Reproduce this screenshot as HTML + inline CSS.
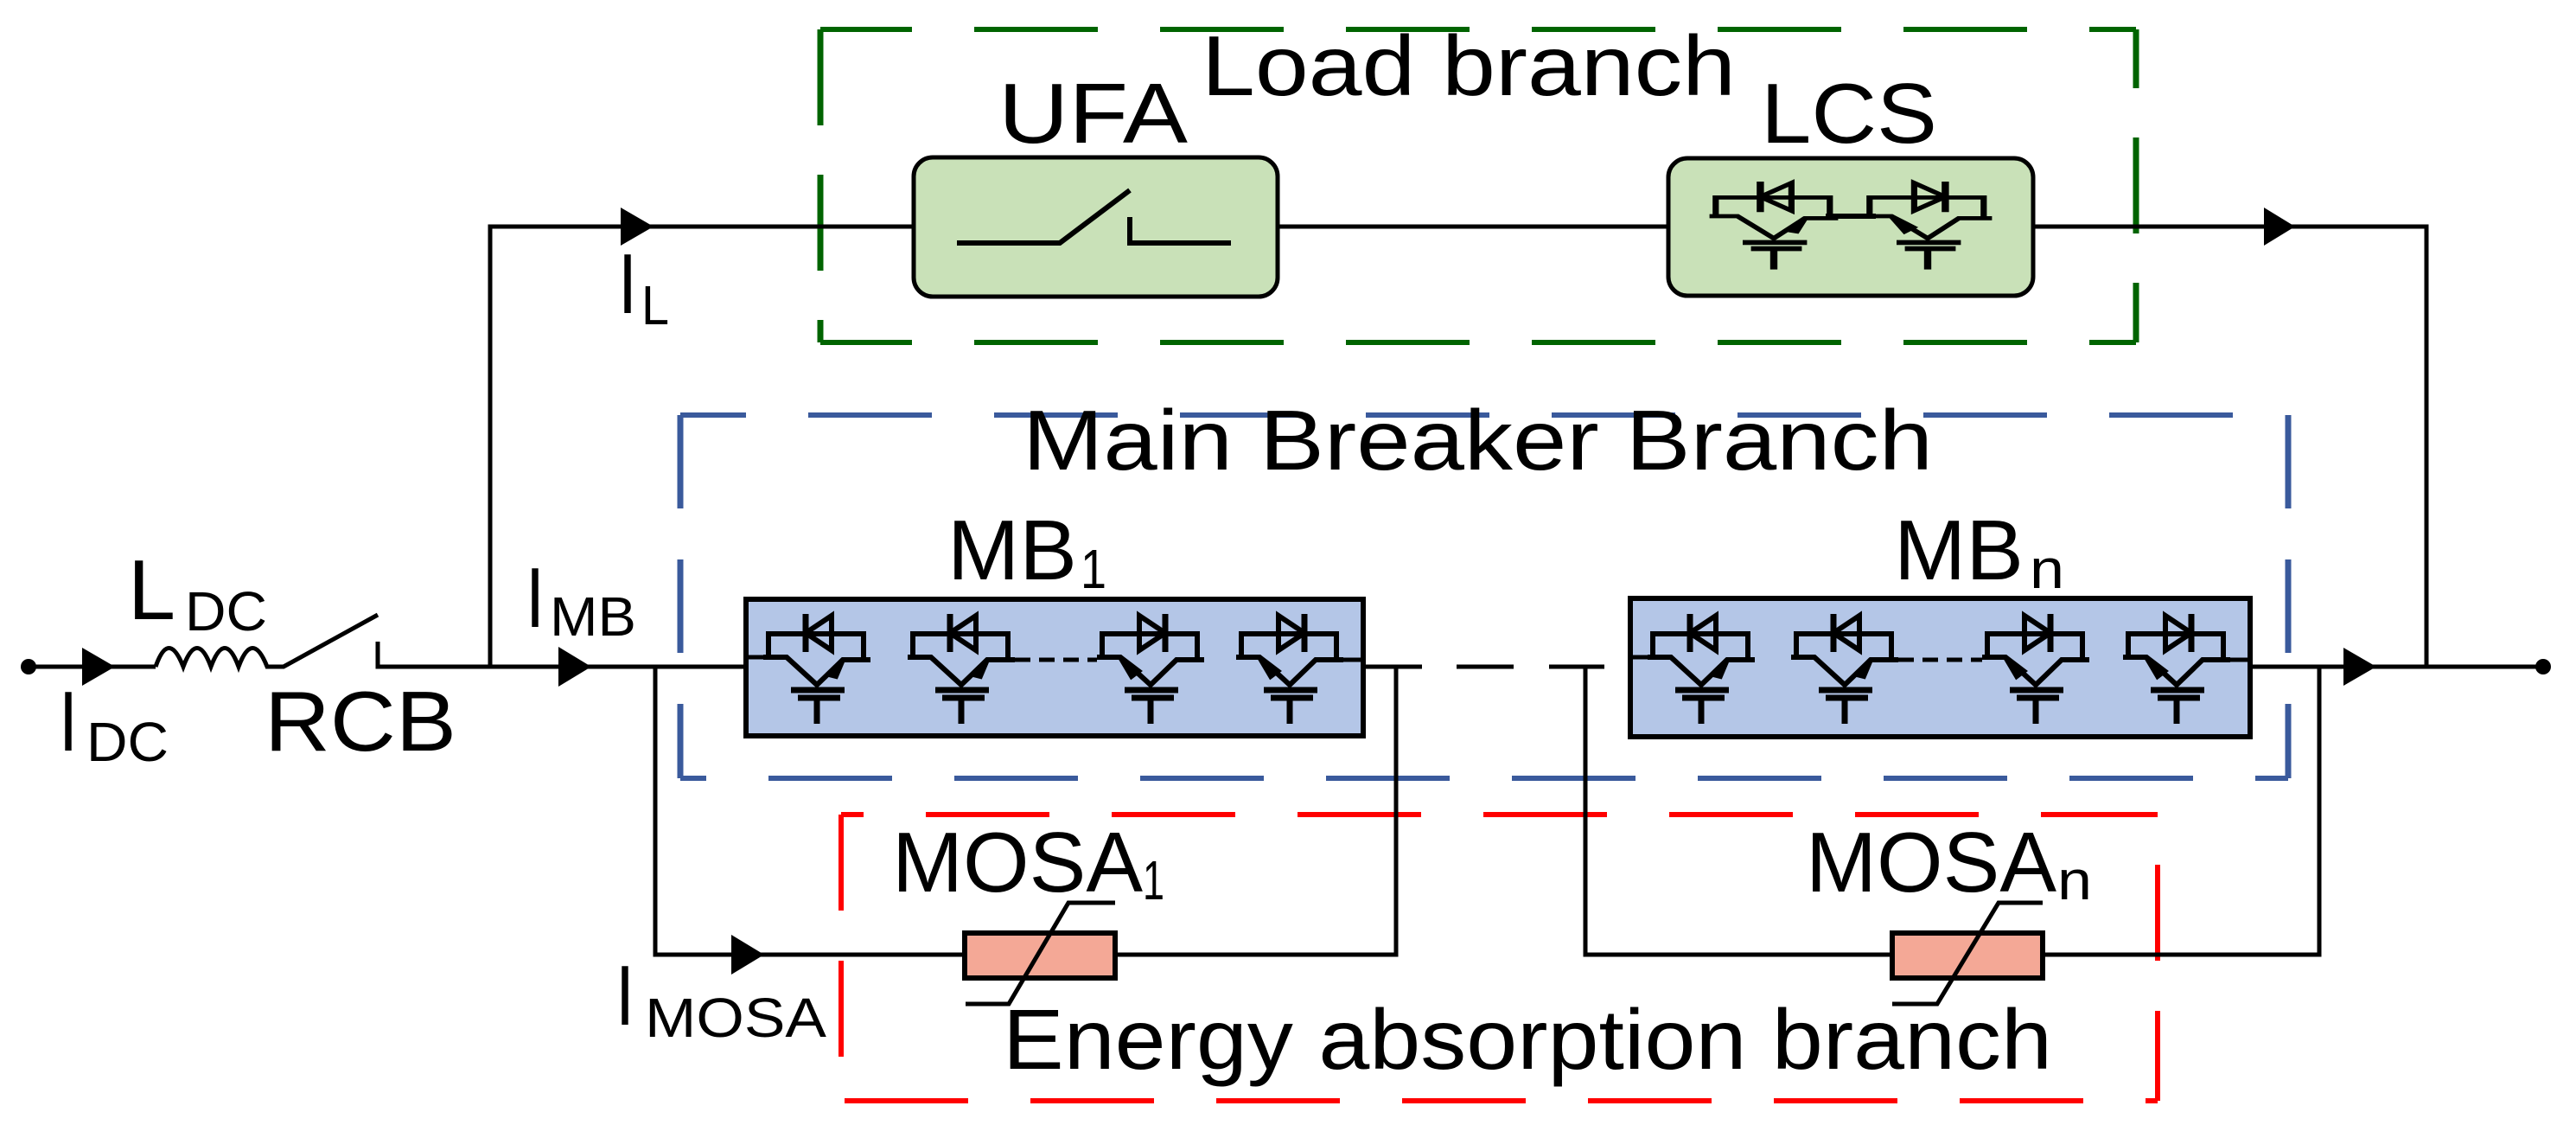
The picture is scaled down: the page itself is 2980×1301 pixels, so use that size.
<!DOCTYPE html>
<html><head><meta charset="utf-8"><style>
html,body{margin:0;padding:0;background:#fff;}
svg{display:block;}
text{font-family:"Liberation Sans",Arial,sans-serif;fill:#000;}
</style></head><body>
<svg width="2980" height="1301" viewBox="0 0 2980 1301" xmlns="http://www.w3.org/2000/svg">
<defs>
<g id="igL" fill="none" stroke="#000" stroke-width="6">
  <path d="M-62,0 H-35 L0,32 L30,3 H62"/>
  <path d="M-56,0 V-27 H54 V3"/>
  <path d="M-13,-50 V-6" stroke-width="7"/>
  <path d="M-13,-28 L17,-48 V-8 Z"/>
  <path d="M-30,38 H32 M-22,47 H27" stroke-width="7"/>
  <path d="M0,47 V77" stroke-width="7"/>
  <path d="M30,3 L14,20 L22,22 Z" fill="#000"/>
</g>
<g id="igR" fill="none" stroke="#000" stroke-width="6">
  <path d="M-62,0 H-35 L0,32 L30,3 H62"/>
  <path d="M-56,0 V-27 H54 V3"/>
  <path d="M17,-50 V-6" stroke-width="7"/>
  <path d="M17,-28 L-13,-48 V-8 Z"/>
  <path d="M-30,38 H32 M-22,47 H27" stroke-width="7"/>
  <path d="M0,47 V77" stroke-width="7"/>
  <path d="M-35,0 L-22,22 L-14,16 Z" fill="#000"/>
</g>
</defs>

<!-- Green dashed box -->
<g stroke="#006400" stroke-width="6" fill="none">
  <path d="M949,34 H2471" stroke-dasharray="143 72" stroke-dashoffset="37"/>
  <path d="M949,396 H2471" stroke-dasharray="143 72" stroke-dashoffset="37"/>
  <path d="M949,34 V396" stroke-width="7" stroke-dasharray="111 57"/>
  <path d="M2471,34 V396" stroke-width="7" stroke-dasharray="111 57" stroke-dashoffset="43"/>
</g>
<!-- Blue dashed box -->
<g stroke="#3a5a9c" stroke-width="6" fill="none">
  <path d="M787,480 H2647" stroke-dasharray="143 72" stroke-dashoffset="67"/>
  <path d="M787,900 H2647" stroke-dasharray="143 72" stroke-dashoffset="113"/>
  <path d="M787,480 V900" stroke-width="7" stroke-dasharray="108 59"/>
  <path d="M2647,480 V900" stroke-width="7" stroke-dasharray="108 59"/>
</g>
<!-- Red dashed box -->
<g stroke="#ff0000" stroke-width="6" fill="none">
  <path d="M973,942 H2496" stroke-dasharray="143 72" stroke-dashoffset="117"/>
  <path d="M973,1273 H2496" stroke-dasharray="143 72" stroke-dashoffset="211"/>
  <path d="M973,942 V1273" stroke-dasharray="111 58"/>
  <path d="M2496,942 V1273" stroke-dasharray="111 58" stroke-dashoffset="111"/>
</g>

<!-- Wires -->
<g stroke="#000" fill="none" stroke-width="5">
  <path d="M567,771 V262 H1057"/>
  <path d="M1478,262 H1930"/>
  <path d="M2352,262 H2807 V771"/>
  <path d="M33,771 H180"/>
  <path d="M180,771 Q195,728 212,771 Q228,728 244,771 Q260,728 276,771 Q292,728 309,771 H328 L437,711"/>
  <path d="M437,742 V771 H862"/>
  <path d="M758,771 V1104 H1116"/>
  <path d="M1290,1104 H1615 V771"/>
  <path d="M1577,771 H1645"/>
  <path d="M1685,771 H1751 M1792,771 H1856" />
  <path d="M1834,771 V1104 H2189"/>
  <path d="M2363,1104 H2683 V771"/>
  <path d="M2603,771 H2942"/>
</g>
<circle cx="33" cy="771" r="9" fill="#000"/>
<circle cx="2942" cy="771" r="9" fill="#000"/>
<!-- Arrows -->
<g fill="#000">
  <path d="M95,749 L133,771 L95,793 Z"/>
  <path d="M646,748 L684,771 L646,794 Z"/>
  <path d="M718,240 L756,262 L718,284 Z"/>
  <path d="M2619,240 L2655,262 L2619,284 Z"/>
  <path d="M2711,749 L2749,771 L2711,793 Z"/>
  <path d="M846,1081 L884,1104 L846,1127 Z"/>
</g>

<!-- UFA box -->
<rect x="1057" y="182" width="421" height="161" rx="22" fill="#c9e1b8" stroke="#000" stroke-width="5"/>
<path d="M1107,281 H1226 L1307,220 M1307,251 V281 H1424" stroke="#000" stroke-width="6" fill="none"/>
<!-- LCS box -->
<rect x="1930" y="183" width="422" height="159" rx="22" fill="#c9e1b8" stroke="#000" stroke-width="5"/>
<g transform="translate(2052,250) scale(1.2,0.8)"><use href="#igL"/></g>
<g transform="translate(2230,250) scale(1.2,0.8)"><use href="#igR"/></g>
<path d="M2112,250 H2170" stroke="#000" stroke-width="6"/>

<!-- MB1 box -->
<rect x="863" y="693" width="714" height="158" fill="#b4c6e7" stroke="#000" stroke-width="6"/>
<use href="#igL" x="945" y="760"/>
<use href="#igL" x="1112" y="760"/>
<use href="#igR" x="1331" y="760"/>
<use href="#igR" x="1492" y="760"/>
<path d="M863,760 H883 M1554,763 H1577" stroke="#000" stroke-width="5"/>
<path d="M1174,763 H1269" stroke="#000" stroke-width="5" stroke-dasharray="18 10"/>
<!-- MBn box -->
<rect x="1886" y="692" width="717" height="160" fill="#b4c6e7" stroke="#000" stroke-width="6"/>
<use href="#igL" x="1968" y="760"/>
<use href="#igL" x="2134" y="760"/>
<use href="#igR" x="2355" y="760"/>
<use href="#igR" x="2518" y="760"/>
<path d="M1886,760 H1906 M2580,763 H2603" stroke="#000" stroke-width="5"/>
<path d="M2196,763 H2293" stroke="#000" stroke-width="5" stroke-dasharray="18 10"/>

<!-- MOSA resistors -->
<rect x="1116" y="1079" width="174" height="52" fill="#f4a896" stroke="#000" stroke-width="6"/>
<path d="M1117,1161 H1167 L1236,1044 H1290" stroke="#000" stroke-width="5" fill="none"/>
<rect x="2189" y="1079" width="174" height="52" fill="#f4a896" stroke="#000" stroke-width="6"/>
<path d="M2189,1161 H2241 L2312,1044 H2363" stroke="#000" stroke-width="5" fill="none"/>

<!-- Labels -->
<g font-size="98">
  <text x="1390" y="110" textLength="618" lengthAdjust="spacingAndGlyphs">Load branch</text>
  <text x="1155" y="165" textLength="219" lengthAdjust="spacingAndGlyphs">UFA</text>
  <text x="2037" y="165" textLength="204" lengthAdjust="spacingAndGlyphs">LCS</text>
  <text x="1183" y="543" textLength="1053" lengthAdjust="spacingAndGlyphs">Main Breaker Branch</text>
  <text x="1096" y="670" textLength="150" lengthAdjust="spacingAndGlyphs">MB</text>
  <text x="2191" y="670" textLength="150" lengthAdjust="spacingAndGlyphs">MB</text>
  <text x="306" y="868" textLength="222" lengthAdjust="spacingAndGlyphs">RCB</text>
  <text x="1032" y="1031" textLength="290" lengthAdjust="spacingAndGlyphs">MOSA</text>
  <text x="2089" y="1031" textLength="290" lengthAdjust="spacingAndGlyphs">MOSA</text>
  <text x="1160" y="1236" textLength="1214" lengthAdjust="spacingAndGlyphs">Energy absorption branch</text>
  <text x="148" y="716" textLength="55" lengthAdjust="spacingAndGlyphs">L</text>
  <text x="68" y="868" textLength="22" lengthAdjust="spacingAndGlyphs">I</text>
  <text x="608" y="725" textLength="22" lengthAdjust="spacingAndGlyphs">I</text>
  <text x="715" y="362" textLength="22" lengthAdjust="spacingAndGlyphs">I</text>
  <text x="712" y="1185" textLength="22" lengthAdjust="spacingAndGlyphs">I</text>
</g>
<g font-size="64">
  <text x="214" y="729" textLength="95" lengthAdjust="spacingAndGlyphs">DC</text>
  <text x="100" y="880" textLength="95" lengthAdjust="spacingAndGlyphs">DC</text>
  <text x="636" y="735" textLength="100" lengthAdjust="spacingAndGlyphs">MB</text>
  <text x="746" y="1199" textLength="210" lengthAdjust="spacingAndGlyphs">MOSA</text>
  <text x="742" y="375" textLength="32" lengthAdjust="spacingAndGlyphs">L</text>
  <text x="1250" y="680" textLength="30" lengthAdjust="spacingAndGlyphs">1</text>
  <text x="2348" y="680" textLength="40" lengthAdjust="spacingAndGlyphs">n</text>
  <text x="1322" y="1040" textLength="25" lengthAdjust="spacingAndGlyphs">1</text>
  <text x="2380" y="1040" textLength="40" lengthAdjust="spacingAndGlyphs">n</text>
</g>
</svg>
</body></html>
